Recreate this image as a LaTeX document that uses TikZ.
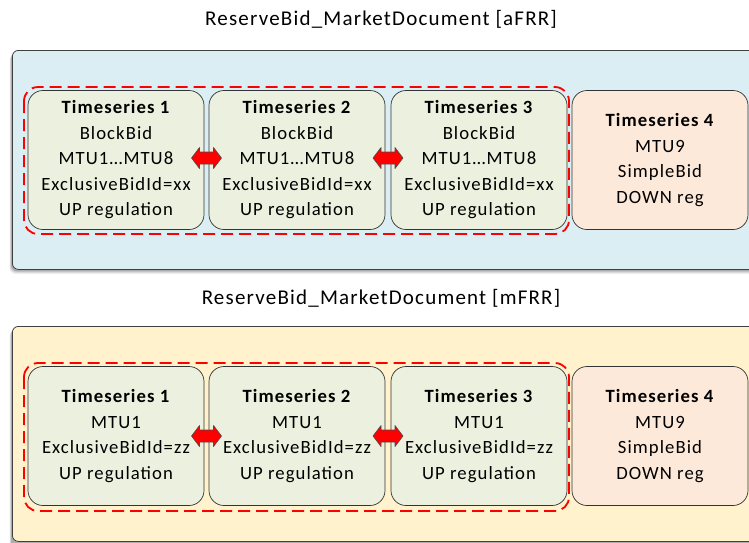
\documentclass[tikz,border=0pt]{standalone}
\usepackage{fontspec}
\setmainfont[LetterSpace=5.7]{Carlito}
\usetikzlibrary{calc}
\definecolor{blueA}{HTML}{DAEEF3}
\definecolor{yellowA}{HTML}{FFF2CC}
\definecolor{tsgreen}{HTML}{EBF1DE}
\definecolor{tspeach}{HTML}{FDE9D9}
\begin{document}
\begin{tikzpicture}[x=1pt,y=-1pt,
  outer/.style={draw=black!75, line width=0.8pt, rounded corners=6pt, inner sep=0pt, anchor=north west},
  shadowbox/.style={fill=black, rounded corners=6pt},
  ts/.style={draw=black!80, line width=0.7pt, rounded corners=15pt, fill=tsgreen,
    minimum width=176pt, minimum height=139pt, align=center, inner sep=0pt,
    font=\fontsize{18.7}{25.5}\selectfont},
  ts4/.style={ts, fill=tspeach},
  grp/.style={draw=red, dash pattern=on 12pt off 6pt, line width=1.8pt, rounded corners=14pt},
  dblarrow/.style={fill=red, draw=black!70, line width=0.6pt, line join=round},
  title/.style={font=\fontsize{21}{24}\selectfont, inner sep=0pt}
]
\useasboundingbox (0,0) rectangle (749,542);
\clip (0,0) rectangle (749,542);
\fill[white] (0,0) rectangle (749,542);

\newcommand\blockarrow[1]{%
  \draw[dblarrow] ($(#1)+(-15,0)$) -- ++(8,-10.5) -- ++(0,4.5) -- ++(14,0) -- ++(0,-4.5)
    -- ++(8,10.5) -- ++(-8,10.5) -- ++(0,-4.5) -- ++(-14,0) -- ++(0,4.5) -- cycle;}

% ---------- aFRR ----------
\node[title] (title1) at (381,19) {ReserveBid\_MarketDocument [aFRR]};
\foreach \o/\a in {5/0.06,4/0.08,3/0.1,2/0.12}
  \fill[shadowbox, opacity=\a] (12-\o/2,50+\o) rectangle (780,269+\o);
\node[outer, fill=blueA, minimum width=768pt, minimum height=219pt] (doc1) at (12,50) {};
\draw[grp] (24,87) rectangle (569,234);
\node[ts] (a1) at (116,160) {\textbf{Timeseries 1}\\BlockBid\\MTU1…MTU8\\ExclusiveBidId=xx\\UP regulation};
\node[ts] (a2) at (297,160) {\textbf{Timeseries 2}\\BlockBid\\MTU1…MTU8\\ExclusiveBidId=xx\\UP regulation};
\node[ts] (a3) at (479,160) {\textbf{Timeseries 3}\\BlockBid\\MTU1…MTU8\\ExclusiveBidId=xx\\UP regulation};
\node[ts4] (a4) at (660,160) {\textbf{Timeseries 4}\\MTU9\\SimpleBid\\DOWN reg};
\coordinate (ar1) at ($(a1.east)!0.5!(a2.west)+(0,-2)$);
\coordinate (ar2) at ($(a2.east)!0.5!(a3.west)+(0,-2)$);
\blockarrow{ar1}
\blockarrow{ar2}

% ---------- mFRR ----------
\node[title] (title2) at (381,298) {ReserveBid\_MarketDocument [mFRR]};
\foreach \o/\a in {5/0.06,4/0.08,3/0.1,2/0.12}
  \fill[shadowbox, opacity=\a] (12-\o/2,326+\o) rectangle (780,560);
\node[outer, fill=yellowA, minimum width=768pt, minimum height=215pt] (doc2) at (12,326) {};
\draw[grp] (24,363) rectangle (569,511);
\node[ts] (m1) at (116,436) {\textbf{Timeseries 1}\\MTU1\\ExclusiveBidId=zz\\UP regulation};
\node[ts] (m2) at (297,436) {\textbf{Timeseries 2}\\MTU1\\ExclusiveBidId=zz\\UP regulation};
\node[ts] (m3) at (479,436) {\textbf{Timeseries 3}\\MTU1\\ExclusiveBidId=zz\\UP regulation};
\node[ts4] (m4) at (660,436) {\textbf{Timeseries 4}\\MTU9\\SimpleBid\\DOWN reg};
\coordinate (ar3) at ($(m1.east)!0.5!(m2.west)$);
\coordinate (ar4) at ($(m2.east)!0.5!(m3.west)$);
\blockarrow{ar3}
\blockarrow{ar4}
\end{tikzpicture}
\end{document}
